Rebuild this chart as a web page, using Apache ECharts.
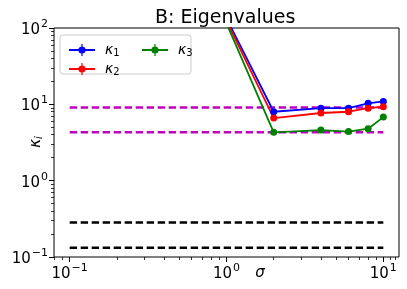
<!DOCTYPE html>
<html>
<head>
<meta charset="utf-8">
<script src="https://cdn.jsdelivr.net/npm/echarts@6/dist/echarts.min.js"></script>
<style>
html,body{margin:0;padding:0;background:#fff;}
#chart{width:407px;height:289px;}
</style>
</head>
<body>
<div id="chart"></div>
<script>
// ---- data ----
const sigma = [1, 2, 4, 6, 8, 10];
const kappa1 = [134, 8.0, 8.9, 8.9, 10.3, 10.9];
const kappa2 = [124, 6.6, 7.7, 8.0, 8.9, 9.3];
const kappa3 = [115, 4.3, 4.6, 4.4, 4.8, 6.8];
const refX = [0.1, 10];
const magentaLevels = [9.1, 4.3];
const blackLevels = [0.283, 0.132];
const xMajorTicks = [0.1, 1, 10];
const xMinorTicks = [0.08, 0.09, 0.2, 0.3, 0.4, 0.5, 0.6, 0.7, 0.8, 0.9, 2, 3, 4, 5, 6, 7, 8, 9, 11, 12];
const yMajorTicks = [0.1, 1, 10, 100];
const yMinorTicks = [0.2, 0.3, 0.4, 0.5, 0.6, 0.7, 0.8, 0.9, 2, 3, 4, 5, 6, 7, 8, 9, 20, 30, 40, 50, 60, 70, 80, 90];
const xMin = Math.pow(10, -1.1), xMax = Math.pow(10, 1.1);
const yMin = 0.1, yMax = 100;

const FONT = 'DejaVu Sans';
const chart = echarts.init(document.getElementById('chart'), null, {renderer: 'canvas'});

function powLabel(v) {
  const e = Math.round(Math.log10(v));
  const es = e < 0 ? '\u2212' + (-e) : String(e);
  return '{b|10}{sup|' + es + '}';
}
const powRich = {
  b: {fontFamily: FONT, fontSize: 15, color: '#000', lineHeight: 19, verticalAlign: 'bottom'},
  sup: {fontFamily: FONT, fontSize: 11, color: '#000', lineHeight: 19, verticalAlign: 'top', padding: [0, 0, 0, 1]}
};

function pairs(xs, ys) { return xs.map((x, i) => [x, ys[i]]); }

const legendIcon = 'path://M0,5L26,5L26,7L0,7Z M16.6,6A3.6,3.6,0,1,1,9.4,6A3.6,3.6,0,1,1,16.6,6Z M12.4,0L13.6,0L13.6,12L12.4,12Z';
const legendText = {
  fontFamily: FONT, fontSize: 14, color: '#000', padding: [0, 0, 0, 5],
  rich: {
    k: {fontFamily: FONT, fontSize: 14, fontStyle: 'italic', color: '#000', lineHeight: 16},
    s: {fontFamily: FONT, fontSize: 10, color: '#000', lineHeight: 10, verticalAlign: 'bottom'}
  }
};
const legendFmt = n => '{k|\u03ba}{s|' + n.slice(1) + '}';

const dashedStyle = (color, v) => ({
  type: 'line', xAxisIndex: 0, yAxisIndex: 0, data: pairs(refX, [v, v]),
  symbol: 'none', silent: true, z: 1,
  lineStyle: {color: color, width: 2.5, type: [7.4, 3.6]}
});

const mainSeries = (name, color, ys) => ({
  name: name, type: 'line', xAxisIndex: 0, yAxisIndex: 0, data: pairs(sigma, ys),
  symbol: 'circle', symbolSize: 7, clip: true, z: 3,
  lineStyle: {color: color, width: 1.8},
  itemStyle: {color: color}
});

chart.setOption({
  animation: false,
  backgroundColor: '#fff',
  title: {
    text: 'B: Eigenvalues', left: 150, top: 4,
    textStyle: {fontFamily: FONT, fontSize: 19, fontWeight: 'normal', color: '#000'}
  },
  grid: {left: 54, right: 8, top: 28, bottom: 32, show: true, borderColor: '#000', borderWidth: 1, backgroundColor: 'transparent', containLabel: false},
  legend: [
    {data: ['\u03ba1', '\u03ba2'], orient: 'vertical', left: 64, top: 38, itemWidth: 26, itemHeight: 12, itemGap: 4,
     icon: legendIcon, textStyle: legendText, formatter: legendFmt, z: 10, selectedMode: false},
    {data: ['\u03ba3'], orient: 'vertical', left: 137, top: 38, itemWidth: 26, itemHeight: 12, itemGap: 4,
     icon: legendIcon, textStyle: legendText, formatter: legendFmt, z: 10, selectedMode: false}
  ],
  xAxis: [
    {type: 'log', min: xMin, max: xMax, position: 'bottom',
     axisLine: {show: false}, splitLine: {show: false},
     axisTick: {show: true, length: 5, inside: false, lineStyle: {color: '#000', width: 1}, customValues: xMajorTicks},
     axisLabel: {show: true, margin: 6, customValues: xMajorTicks, formatter: powLabel, rich: powRich}},
    {type: 'log', min: xMin, max: xMax, position: 'bottom',
     axisLine: {show: false}, splitLine: {show: false},
     axisTick: {show: true, length: 3, inside: false, lineStyle: {color: '#000', width: 0.8}, customValues: xMinorTicks},
     axisLabel: {show: false}}
  ],
  yAxis: [
    {type: 'log', min: yMin, max: yMax, position: 'left',
     axisLine: {show: false}, splitLine: {show: false},
     axisTick: {show: true, length: 5, inside: false, lineStyle: {color: '#000', width: 1}, customValues: yMajorTicks},
     axisLabel: {show: true, margin: 6, customValues: yMajorTicks, formatter: powLabel, rich: powRich}},
    {type: 'log', min: yMin, max: yMax, position: 'left',
     axisLine: {show: false}, splitLine: {show: false},
     axisTick: {show: true, length: 3, inside: false, lineStyle: {color: '#000', width: 0.8}, customValues: yMinorTicks},
     axisLabel: {show: false}}
  ],
  graphic: [
    {type: 'rect', shape: {x: 60, y: 35, width: 131, height: 39, r: 3}, z: 5,
     style: {fill: 'rgba(255,255,255,0.8)', stroke: '#cccccc', lineWidth: 1}},
    {type: 'text', x: 260, y: 273, z: 5,
     style: {text: '\u03c3', fontFamily: FONT, fontSize: 15, fontStyle: 'italic', fill: '#000', align: 'center', verticalAlign: 'middle'}},
    {type: 'text', x: 36, y: 142, rotation: Math.PI / 2, z: 5,
     style: {text: '{k|\u03ba}{s|i}', fontFamily: FONT, fontSize: 15, fill: '#000', align: 'center', verticalAlign: 'middle',
       rich: {k: {fontFamily: FONT, fontSize: 15, fontStyle: 'italic', fill: '#000', lineHeight: 16},
              s: {fontFamily: FONT, fontSize: 10, fontStyle: 'italic', fill: '#000', lineHeight: 10, verticalAlign: 'bottom'}}}}
  ],
  series: [
    dashedStyle('#bf00bf', magentaLevels[0]),
    dashedStyle('#bf00bf', magentaLevels[1]),
    dashedStyle('#000000', blackLevels[0]),
    dashedStyle('#000000', blackLevels[1]),
    mainSeries('\u03ba1', '#0000ff', kappa1),
    mainSeries('\u03ba2', '#ff0000', kappa2),
    mainSeries('\u03ba3', '#008000', kappa3)
  ]
});
</script>
</body>
</html>
